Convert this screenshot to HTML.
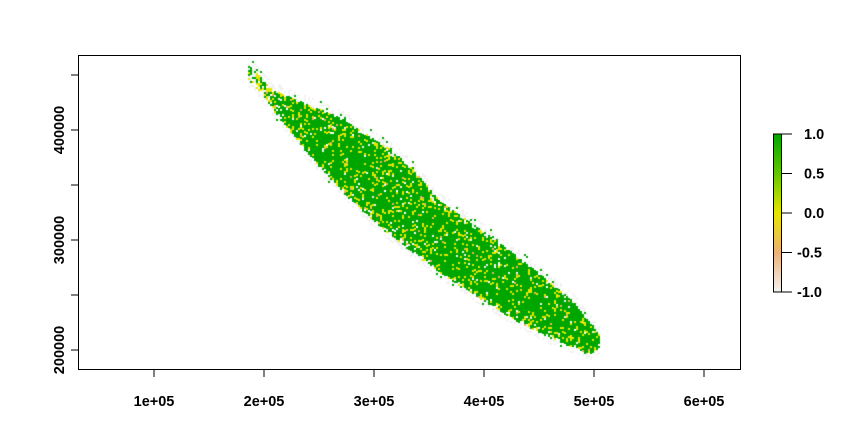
<!DOCTYPE html>
<html><head><meta charset="utf-8"><style>
body{margin:0;background:#fff;}
#wrap{position:relative;width:855px;height:441px;overflow:hidden;font-family:"Liberation Sans",sans-serif;}
canvas,svg{position:absolute;left:0;top:0;}
text{font-family:"Liberation Sans",sans-serif;font-weight:bold;font-size:14.5px;fill:#000;}
</style></head><body>
<div id="wrap">
<canvas id="cv" width="855" height="441"></canvas>
<svg id="sv" width="855" height="441"></svg>
</div>
<script>
// data-space ranges/ticks
const xTicks=[100000,200000,300000,400000,500000,600000];
const xTickLabels=["1e+05","2e+05","3e+05","4e+05","5e+05","6e+05"];
const yTicks=[200000,250000,300000,350000,400000,450000];
const yTickLabels=["200000","","300000","","400000",""];
const legendTicks=[1.0,0.5,0.0,-0.5,-1.0];
const legendLabels=["1.0","0.5","0.0","-0.5","-1.0"];
// band outline (map coordinates)
const upperX=[186000,207000,268000,320000,338000,359000,389000,420000,447000,480000,505000];
const upperY=[460000,438000,413000,380000,362000,337000,316000,294000,273000,246000,214000];
const lowerX=[189000,238000,277000,314000,359000,420000,450000,480000,496000,505000];
const lowerY=[443000,380000,338000,305000,271000,232000,216000,203000,197000,203000];

const sx=v=>154+(v-100000)/100000*110;
const sy=v=>130-(v-400000)/100000*110;
const ly=v=>134+(1-v)/2*158;

function interp(xs,ys,x){
  if(x<=xs[0])return ys[0];
  for(let i=1;i<xs.length;i++){if(x<=xs[i]){const t=(x-xs[i-1])/(xs[i]-xs[i-1]);return ys[i-1]+t*(ys[i]-ys[i-1]);}}
  return ys[ys.length-1];
}
function h(a,b){let n=a*374761393+b*668265263;n=(n^(n>>>13))*1274126177;n=n^(n>>>16);return ((n>>>0)%10000)/10000;}

const cv=document.getElementById('cv'),ctx=cv.getContext('2d');
const cell=2;
const x0=sx(Math.min(upperX[0],lowerX[0])),x1=sx(Math.max(upperX[upperX.length-1],lowerX[lowerX.length-1]));
for(let px=Math.floor(x0);px<=x1;px+=cell){
  const mx=100000+(px-154)/110*100000;
  const yu=sy(interp(upperX,upperY,mx)),yl=sy(interp(lowerX,lowerY,mx));
  const top=Math.min(yu,yl),bot=Math.max(yu,yl);
  const nw=Math.max(0,(290-px)/45);
  for(let py=Math.floor(top)-6;py<=bot+6;py+=cell){
    const r=h(px,py),r2=h(py+7,px+3);
    if(py<top||py>bot){ if(r<0.35){ctx.fillStyle='#F2F2F2';ctx.fillRect(px,py,cell,cell);} else if(r<0.39){ctx.fillStyle='#00A600';ctx.fillRect(px,py,cell,cell);} continue;}
    const t=(py-top)/Math.max(1,bot-top);
    const edge=Math.min(t,1-t);
    let pFill=0.97-nw*0.5-(edge<0.08?(0.08-edge)*4:0);
    if(r>pFill){ ctx.fillStyle=r2<0.6?'#F2F2F2':'#fff';ctx.fillRect(px,py,cell,cell); continue;}
    const pY=0.15+nw*0.25+(edge<0.1?0.08:0);
    if(r2<pY) ctx.fillStyle=r2<0.015?'#EBB25E':'#E6E600';
    else ctx.fillStyle='#00A600';
    ctx.fillRect(px,py,cell,cell);
  }
}
const NS='http://www.w3.org/2000/svg',sv=document.getElementById('sv');
function mk(tag,attrs,parent){const e=document.createElementNS(NS,tag);for(const k in attrs)e.setAttribute(k,attrs[k]);(parent||sv).appendChild(e);return e;}
const box=mk('rect',{x:78.5,y:55.5,width:662,height:314,fill:'none',stroke:'#000','stroke-width':1});


xTicks.forEach((v,i)=>{
  const x=sx(v);
  const tk=mk('line',{x1:x,x2:x,y1:370,y2:377,stroke:'#000'});
  
  
  const tx=mk('text',{x:x,y:406,'text-anchor':'middle'});tx.textContent=xTickLabels[i];
  
  
});
yTicks.forEach((v,i)=>{
  const y=sy(v);
  const tk=mk('line',{x1:71,x2:78.5,y1:y,y2:y,stroke:'#000'});
  
  
  if(yTickLabels[i]){
    const tx=mk('text',{x:0,y:0,'text-anchor':'middle',transform:`translate(64,${y}) rotate(-90)`});tx.textContent=yTickLabels[i];
    
    
  }
});
const defs=mk('defs',{});
const g=mk('linearGradient',{id:'lg',x1:0,y1:0,x2:0,y2:1},defs);
[['0','#00A600'],['0.25','#63C600'],['0.5','#E6E600'],['0.75','#ECB176'],['1','#F2F2F2']].forEach(s=>mk('stop',{offset:s[0],'stop-color':s[1]},g));
const bar=mk('rect',{x:773.5,y:ly(1),width:8,height:ly(-1)-ly(1),fill:'url(#lg)',stroke:'#000','stroke-width':1});


legendTicks.forEach((v,i)=>{
  const y=ly(v);
  const tk=mk('line',{x1:781.5,x2:792,y1:y,y2:y,stroke:'#000'});
  
  
  const tx=mk('text',{x:v<0?797:804,y:y+5});tx.textContent=legendLabels[i];
  
  
});
</script>
</body></html>
